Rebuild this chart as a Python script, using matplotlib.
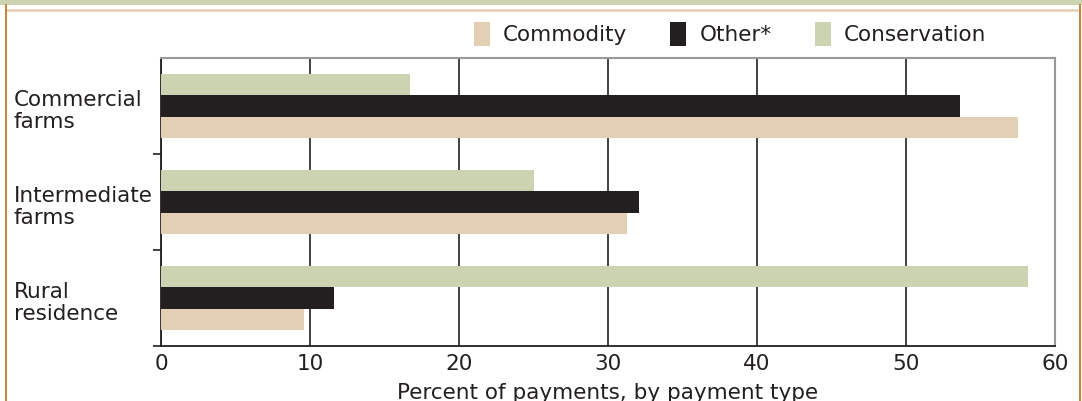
import matplotlib
matplotlib.use("Agg")
import matplotlib.pyplot as plt
import matplotlib.transforms as mtransforms
from matplotlib.patches import Rectangle
from matplotlib.lines import Line2D
import numpy as np

# data
categories = ["Commercial\nfarms", "Intermediate\nfarms", "Rural\nresidence"]
series = ["Commodity", "Other*", "Conservation"]
commodity = [57.5, 31.3, 9.6]
other = [53.6, 32.1, 11.6]
conservation = [16.7, 25.0, 58.2]
x_ticks = [0, 10, 20, 30, 40, 50, 60]

colors = {"Commodity": "#e3cfb4", "Other*": "#231f20", "Conservation": "#cbd3b1"}
text_color = "#231f20"

plt.rcParams["font.family"] = ["DejaVu Sans"]
plt.rcParams["font.size"] = 15.5

W, H = 1082, 401
fig = plt.figure(figsize=(W / 100, H / 100), dpi=100)
ax = fig.add_axes([161 / W, (H - 346) / H, (1055 - 161) / W, (346 - 58) / H])

# frame decorations of the original page
fig.add_artist(Rectangle((0, 1 - 4.5 / H), 1, 4.5 / H, transform=fig.transFigure,
                         color="#cbd3b1", lw=0))
fig.add_artist(Line2D([6 / W, 1077 / W], [1 - 10 / H, 1 - 10 / H], transform=fig.transFigure,
                      color="#e3cfb4", lw=1.8))
fig.add_artist(Line2D([5.5 / W, 5.5 / W], [0, 1 - 4.5 / H], transform=fig.transFigure,
                      color="#c07a2a", lw=1.3))
fig.add_artist(Line2D([1079.5 / W, 1079.5 / W], [0, 1 - 4.5 / H], transform=fig.transFigure,
                      color="#c07a2a", lw=1.3))

y = np.arange(len(categories))
h = 0.224
b1 = ax.barh(y + h, commodity, height=h, color=colors["Commodity"], label="Commodity", zorder=3)
b2 = ax.barh(y, other, height=h, color=colors["Other*"], label="Other*", zorder=3)
b3 = ax.barh(y - h, conservation, height=h, color=colors["Conservation"], label="Conservation", zorder=3)

ax.set_xlim(0, 60)
ax.set_ylim(len(categories) - 0.5, -0.5)
ax.set_xticks(x_ticks)
ax.set_xticklabels([str(t) for t in x_ticks], color=text_color)
ax.tick_params(axis="x", length=0, pad=6)
ax.set_yticks(y + 0.5)
ax.set_yticklabels([])
ax.tick_params(axis="y", length=6, width=1.2, color=text_color, direction="out")
ax.grid(axis="x", color=text_color, lw=1.2, zorder=1)
ax.set_axisbelow(True)

for side in ["left", "bottom"]:
    ax.spines[side].set_color(text_color)
    ax.spines[side].set_linewidth(1.3)
for side in ["top", "right"]:
    ax.spines[side].set_color("#999999")
    ax.spines[side].set_linewidth(1.5)

ax.set_xlabel("Percent of payments, by payment type", color=text_color, labelpad=6)

# category labels, left aligned near the page edge
trans = mtransforms.blended_transform_factory(fig.transFigure, ax.transData)
for i, cat in enumerate(categories):
    ax.text(14 / W, y[i] + 0.05, cat, transform=trans, ha="left", va="center",
            color=text_color, linespacing=1.1)

fig.legend(handles=[b1, b2, b3], labels=series, loc="center right",
           bbox_to_anchor=(986 / W, 1 - 34 / H), ncol=3, frameon=False,
           handlelength=0.75, handleheight=1.4, handletextpad=0.6, columnspacing=2.0,
           labelcolor=text_color, borderaxespad=0, borderpad=0)

fig.savefig("out.png", dpi=100)
